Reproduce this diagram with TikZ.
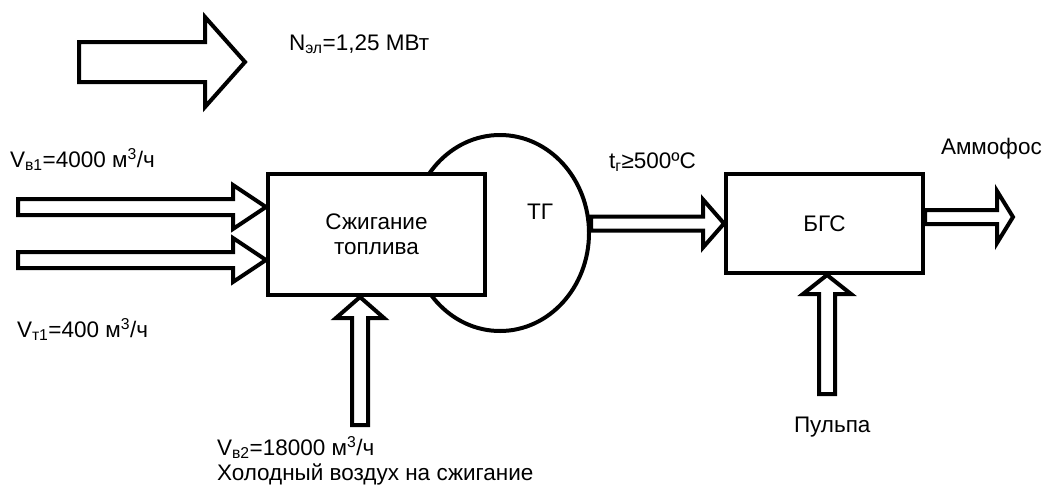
\documentclass[tikz,border=0pt]{standalone}
\usepackage{fontspec}
\setmainfont{Liberation Sans}
\usetikzlibrary{calc,shapes.geometric}
\newcommand{\fatarrow}[5]{%
  \draw[flow] let \p1=#1, \p2=#2, \n1={veclen(\x2-\x1,\y2-\y1)} in
    [shift={(\p1)}, rotate={atan2(\y2-\y1,\x2-\x1)}]
    (0pt,-#3pt) -- ({\n1-#5pt},-#3pt) -- ({\n1-#5pt},-#4pt) -- (\n1,0pt)
    -- ({\n1-#5pt},#4pt) -- ({\n1-#5pt},#3pt) -- (0pt,#3pt) -- cycle;}
\begin{document}
\begin{tikzpicture}[x=1pt, y=-1pt, line width=4pt,
  txt/.style={font=\fontsize{22.5}{25}\selectfont, inner sep=0pt},
  blk/.style={draw, fill=white, txt, align=center},
  flow/.style={draw, fill=white, line width=4pt}]
\useasboundingbox (0,0) rectangle (1044,485);
\node[draw, ellipse, minimum width=178pt, minimum height=196pt, inner sep=0pt] (tg) at (500,233) {};
\node[blk, minimum width=217pt, minimum height=121pt] (burn) at (376.5,234.5) {Сжигание\\топлива};
\node[blk, minimum width=197pt, minimum height=99pt] (bgs) at (824.5,223.5) {БГС};
\node[txt, anchor=base west] (tglbl) at (525,219) {ТГ};
\coordinate (n0) at (79,62);
\coordinate (n1) at (245,62);
\coordinate (vb1) at (18,207);
\coordinate (vt1) at (18,260);
\coordinate (air) at (360,425);
\coordinate (pulp) at (827,394);
\coordinate (prod) at ($(bgs.east)+(88,-6.5)$);
% flows
\fatarrow{(n0)}{(n1)}{20}{45}{40}
\fatarrow{(vb1)}{(burn.west |- vb1)}{8}{22}{33}
\fatarrow{(vt1)}{(burn.west |- vt1)}{8}{22}{33}
\fatarrow{(air)}{(air |- burn.south)}{8}{24}{21}
\fatarrow{(tg.east |- bgs.west)}{(bgs.west)}{7}{24}{21}
\fatarrow{(bgs.east |- prod)}{(prod)}{7}{26}{16}
\fatarrow{(pulp)}{(pulp |- bgs.south)}{8}{24}{19}
% labels
\node[txt, anchor=base west] (npow) at (287,50) {N\textsubscript{эл}=1,25 МВт};
\node[txt, anchor=base west] (lvb1) at (8,167) {V\textsubscript{в1}=4000 м\textsuperscript{3}/ч};
\node[txt, anchor=base west] (lvt1) at (15,337) {V\textsubscript{т1}=400 м\textsuperscript{3}/ч};
\node[txt, anchor=base west] (lvb2) at (215,455) {V\textsubscript{в2}=18000 м\textsuperscript{3}/ч};
\node[txt, anchor=base west] (lair) at (215,480) {Холодный воздух на сжигание};
\node[txt, anchor=base west] (ltemp) at (607,168) {t\textsubscript{г}≥500ºC};
\node[txt, anchor=base west] (lprod) at (939,154) {Аммофос};
\node[txt, anchor=base west] (lpulp) at (792,432) {Пульпа};
\end{tikzpicture}
\end{document}
